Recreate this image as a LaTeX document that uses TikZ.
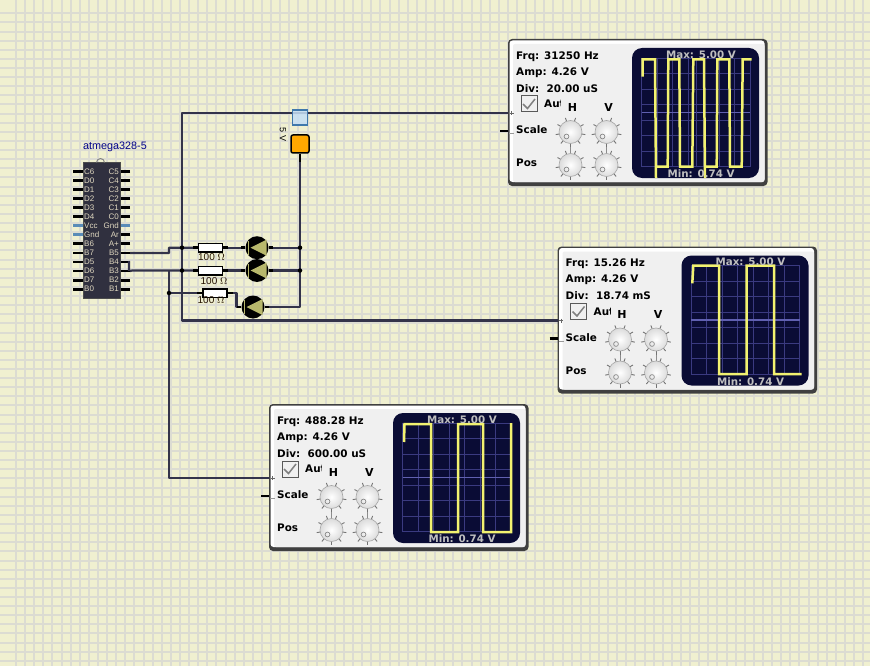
\documentclass[tikz,border=0pt]{standalone}
\usepackage{fontspec}
\setmainfont{DejaVu Sans}
\newfontfamily\libsans{Liberation Sans}
\usetikzlibrary{calc}
\definecolor{paper}{HTML}{F0F0D0}
\definecolor{gridc}{HTML}{DCDCD2}
\definecolor{wirec}{HTML}{33334A}
\definecolor{chipc}{HTML}{30303F}
\definecolor{pinblue}{HTML}{5A8CB8}
\definecolor{pintext}{HTML}{E0D8C0}
\definecolor{screenc}{HTML}{0A0C35}
\definecolor{scrgrid}{HTML}{3A3A80}
\definecolor{scrmid}{HTML}{6060B0}
\definecolor{tracec}{HTML}{F2F270}
\definecolor{panelc}{HTML}{F0F0F0}
\definecolor{ledc}{HTML}{B8B86C}
\definecolor{probefill}{HTML}{C5DFF5}
\definecolor{probeedge}{HTML}{3F78AC}
\definecolor{srcorange}{HTML}{FFA800}
\tikzset{
  wire/.style={draw=wirec,line width=2.2pt,line join=round},
  stub/.style={draw=black,line width=2.8pt},
  junction/.style={circle,fill=black,inner sep=0pt,minimum size=4.5pt},
  resistor/.style={draw=black,fill=white,line width=1.5pt,minimum width=24pt,minimum height=8.5pt,inner sep=0pt},
  rlabel/.style={font=\libsans\fontsize{10}{10}\selectfont,text=black!85!orange,inner sep=0pt},
  pinlab/.style={font=\libsans\fontsize{8}{8}\selectfont,text=pintext,inner sep=0pt},
  scopetxt/.style={font=\bfseries\fontsize{10.4}{11}\selectfont,anchor=west,inner sep=0pt,text=black},
  scrtxt/.style={font=\bfseries\fontsize{10.3}{11}\selectfont,text=black!25!white,inner sep=0pt},
  trace/.style={draw=tracec,line width=2.5pt,line join=miter}
}
% one knob at the current origin
\newcommand{\knob}[2]{%
  \begin{scope}[shift={(#1,#2)}]
    \foreach \a in {-30,10,50,90,130,170,210,250,290}{
      \draw[black!55,line width=.9pt] (\a:10.5) -- (\a:15);}
    \shade[inner color=white,outer color=black!14] (0,0) circle (11.5);
    \draw[black!35,line width=.6pt] (0,0) circle (11.5);
    \draw[black!45,line width=.7pt] (-4,4.5) circle (2.4);
  \end{scope}}
% panel: name, x, y, lines
\newcommand{\scopepanel}[6]{%
  \begin{scope}[shift={(#2,#3)}]
    \fill[black!75,rounded corners=4pt] (0,-1) rectangle (259.5,146);
    \fill[white,rounded corners=3pt] (1.5,0.5) rectangle (256.5,142);
    \fill[panelc,rounded corners=2pt] (5,4) rectangle (256.5,142);
    \draw[stub] (-8,73) -- (0,73);
    \draw[stub] (-8,91) -- (0,91);
    \draw[black!60,line width=.4pt] (1.5,73) -- (5.5,73) (3.5,71) -- (3.5,75);
    \draw[black!40,line width=.4pt] (1,93.5) -- (6,93.5);
    \coordinate (#1in) at (0,73);
    \node[scopetxt] (#1f) at (8,16.5) {Frq: #4};
    \node[scopetxt] (#1a) at (8,32.5) {Amp: #5};
    \node[scopetxt] (#1d) at (8,48.5) {Div:\ \ #6};
    \node[draw=black!65,fill=panelc,line width=1pt,minimum size=16pt,inner sep=0pt] (#1c) at (21,64) {};
    \draw[black!50,line width=1.5pt] (15,64) -- (19.5,68.5) -- (27,59);
    \begin{scope}
      \clip (32,56) rectangle (52.7,72);
      \node[scopetxt] (#1au) at (36,64) {Aut};
    \end{scope}
    \node[scopetxt,anchor=center,font=\bfseries\fontsize{11}{11}\selectfont] (#1h) at (64.5,67) {H};
    \node[scopetxt,anchor=center,font=\bfseries\fontsize{11}{11}\selectfont] (#1v) at (100.5,67) {V};
    \node[scopetxt] (#1sc) at (8,90) {Scale};
    \node[scopetxt] (#1po) at (8,123) {Pos};
    \draw[black!45,line width=.8pt] (62.5,92) -- (62.5,125) (98.5,92) -- (98.5,125);
    \knob{62.5}{92}\knob{98.5}{92}\knob{62.5}{125}\knob{98.5}{125}
    \fill[screenc,rounded corners=10pt] (124,8) rectangle (251,138);
    \foreach \k in {0,...,7}{
      \draw[scrgrid,line width=1.1pt] ({133.7+15.5*\k},18.3) -- ({133.7+15.5*\k},126.7);
      \draw[scrgrid,line width=1.1pt] (133.7,{18.3+15.48*\k}) -- (242.2,{18.3+15.48*\k});}
    \draw[scrmid,line width=1.6pt] (133.7,72.6) -- (242.2,72.6);
    \draw[scrgrid,line width=1.4pt] (188.7,18.3) -- (188.7,126.7);
  \end{scope}}
\newcommand{\scopelabels}[3]{%
  \begin{scope}[shift={(#2,#3)}]
    \node[scrtxt] (#1max) at (193,14.3) {Max: 5.00 V};
    \node[scrtxt] (#1min) at (193,134) {Min: 0.74 V};
  \end{scope}}
\newcommand{\ledshape}[3]{%
  \node[circle,fill=black,minimum size=23pt,inner sep=0pt] (#1) at (#2,#3) {};
  \fill[ledc] (#2-9.5,#3-7) -- (#2-7.7,#3-7) -- (#2-7.7,#3+7) -- (#2-9.5,#3+7) -- cycle;
  \fill[ledc] (#2-6.5,#3) -- (#2+9.5,#3-8) -- (#2+9.5,#3+8) -- cycle;}
\begin{document}
\begin{tikzpicture}[x=1pt,y=-1pt]
\useasboundingbox (0,0) rectangle (870,666);
\fill[paper] (0,0) rectangle (870,666);
\foreach \k in {0,...,94}{\draw[gridc,line width=2pt] ({16+9.11*\k},0) -- ({16+9.11*\k},666);}
\foreach \k in {0,...,72}{\draw[gridc,line width=2pt] (0,{13.3+9.12*\k}) -- (870,{13.3+9.12*\k});}

% chip
\node[rlabel,font=\libsans\fontsize{10.8}{11}\selectfont,text=blue!55!black] (chiplabel) at (115,147) {atmega328-5};
\foreach \n/\l [count=\i from 0] in {c6/C6,d0/D0,d1/D1,d2/D2,d3/D3,d4/D4,vcc/Vcc,gnda/Gnd,b6/B6,b7/B7,d5/D5,d6/D6,d7/D7,b0/B0}{
  \coordinate (L\n) at (73,{171.3+9.07*\i});
  \ifnum\i=6 \draw[pinblue,line width=2.8pt] (L\n) -- ++(11,0);
  \else\ifnum\i=7 \draw[pinblue,line width=2.8pt] (L\n) -- ++(11,0);
  \else \draw[stub] (L\n) -- ++(11,0);\fi\fi}
\foreach \n/\l [count=\i from 0] in {c5/C5,c4/C4,c3/C3,c2/C2,c1/C1,c0/C0,gndb/Gnd,ar/Ar,ap/A+,b5/B5,b4/B4,b3/B3,b2/B2,b1/B1}{
  \coordinate (R\n) at (130,{171.3+9.07*\i});
  \ifnum\i=6 \draw[pinblue,line width=2.8pt] (R\n) -- ++(-11,0);
  \else \draw[stub] (R\n) -- ++(-11,0);\fi}
\node[draw=black!70,fill=chipc,line width=.8pt,minimum width=37pt,minimum height=136pt,inner sep=0pt] (chip) at (101.5,230) {};
\draw[gray,line width=.9pt] (96.5,162.5) arc[start angle=180,end angle=360,radius=4];
\foreach \n/\l [count=\i from 0] in {c6/C6,d0/D0,d1/D1,d2/D2,d3/D3,d4/D4,vcc/Vcc,gnda/Gnd,b6/B6,b7/B7,d5/D5,d6/D6,d7/D7,b0/B0}{
  \node[pinlab,anchor=west] (tl\n) at (84,{171.3+9.07*\i}) {\l};}
\foreach \n/\l [count=\i from 0] in {c5/C5,c4/C4,c3/C3,c2/C2,c1/C1,c0/C0,gndb/Gnd,ar/Ar,ap/A+,b5/B5,b4/B4,b3/B3,b2/B2,b1/B1}{
  \node[pinlab,anchor=east] (tr\n) at (119,{171.3+9.07*\i}) {\l};}

% scopes
\scopepanel{sa}{508}{40}{31250 Hz}{4.26 V}{20.00 uS}
\scopepanel{sb}{557.5}{247.5}{15.26 Hz}{4.26 V}{18.74 mS}
\scopepanel{sc}{269}{405}{488.28 Hz}{4.26 V}{600.00 uS}

% parts
\node[resistor] (r1) at (210.5,247.7) {};
\node[resistor] (r2) at (210.5,270.5) {};
\node[resistor] (r3) at (215,293) {};
\node[rlabel] (r1l) at (211.5,257.5) {100 $\Omega$};
\node[rlabel] (r2l) at (214,281) {100 $\Omega$};
\node[rlabel] (r3l) at (211,300.5) {100 $\Omega$};
\ledshape{l1}{257}{247.7}
\ledshape{l2}{257}{270.5}
\ledshape{l3}{253}{307}
\coordinate (j1) at (182,247.7);
\coordinate (j2) at (182,270.5);
\coordinate (j3) at (169,293);
\coordinate (j4) at (300,247.7);
\coordinate (j5) at (300,270.5);
\node[draw=black,fill=srcorange,line width=1.5pt,rounded corners=2pt,minimum width=18pt,minimum height=18pt,inner sep=0pt] (vsrc) at (300,144) {};
\node[font=\libsans\fontsize{9}{9}\selectfont,rotate=-90,inner sep=0pt] (vlab) at (283,134.5) {5 V};

% wires
\draw[wire] (Rb5) -- (169,252.9) -- (169,247.7) -- (r1.west);
\draw[wire] (Rb4) -- (129,261.9) -- (129,270.9) (Rb3) -- (132,270.5) -- (r2.west);
\draw[wire] (169,270.5) -- (j3) -- (169,478) -- (scin);
\draw[wire] (j3) -- (r3.west);
\draw[wire] (j1) |- (sain);
\draw[wire] (j1) |- (sbin);
\draw[wire] (r1.east) -- (l1.west);
\draw[wire] (r2.east) -- (l2.west);
\draw[wire] (r3.east) -- (236.5,293) -- (236.5,307) -- (l3.west);
\draw[wire] (l1.east) -- (j4);
\draw[wire] (l2.east) -- (j5);
\draw[wire] (l3.east) -- (300,307) -- (vsrc.south);
\foreach \p/\d in {r1.west/-5,r2.west/-5,r3.west/-5,r1.east/5,r2.east/5,r3.east/5}{\draw[black,line width=2.8pt] (\p) -- ++(\d,0);}
\foreach \p/\d in {l1.west/-4,l2.west/-4,l3.west/-4,l1.east/4,l2.east/4,l3.east/4}{\draw[black,line width=2.8pt] (\p) -- ++(\d,0);}
\foreach \j in {j1,j2,j3,j4,j5}{\node[junction] at (\j) {};}
\draw[black,line width=2.8pt] (vsrc.south) -- ++(0,8);
\node[draw=probeedge,fill=probefill,fill opacity=.85,line width=1.2pt,minimum width=15pt,minimum height=15pt,inner sep=0pt] (probe) at (300,117.5) {};

% traces
\draw[trace] (642.7,76.7) -- (642.7,59.3) -- (655,59.3) -- (656,178) (656,166.7) -- (667.7,166.7) -- (668.3,59.3) -- (679.3,59.3) -- (680,166.7) -- (692.3,166.7) -- (693.3,59.3) -- (704,59.3) -- (705,178) (705,166.7) -- (716.7,166.7) -- (717.3,59.3) -- (729.3,59.3) -- (730,166.7) -- (741.7,166.7) -- (742.7,59.3) -- (751.7,59.3);
\draw[trace] (692.3,283.3) -- (693.3,265.7) -- (719,265.7) -- (719,374) -- (746.7,374) -- (746.7,265.7) -- (774,265.7) -- (774,374) -- (801.7,374);
\draw[trace] (404,442) -- (404.5,424) -- (431,424) -- (431,532) -- (458,532) -- (458,424) -- (483,424) -- (483,532) -- (511,532) -- (511,423);
\scopelabels{sa}{508}{40}
\scopelabels{sb}{557.5}{247.5}
\scopelabels{sc}{269}{405}
\end{tikzpicture}
\end{document}
